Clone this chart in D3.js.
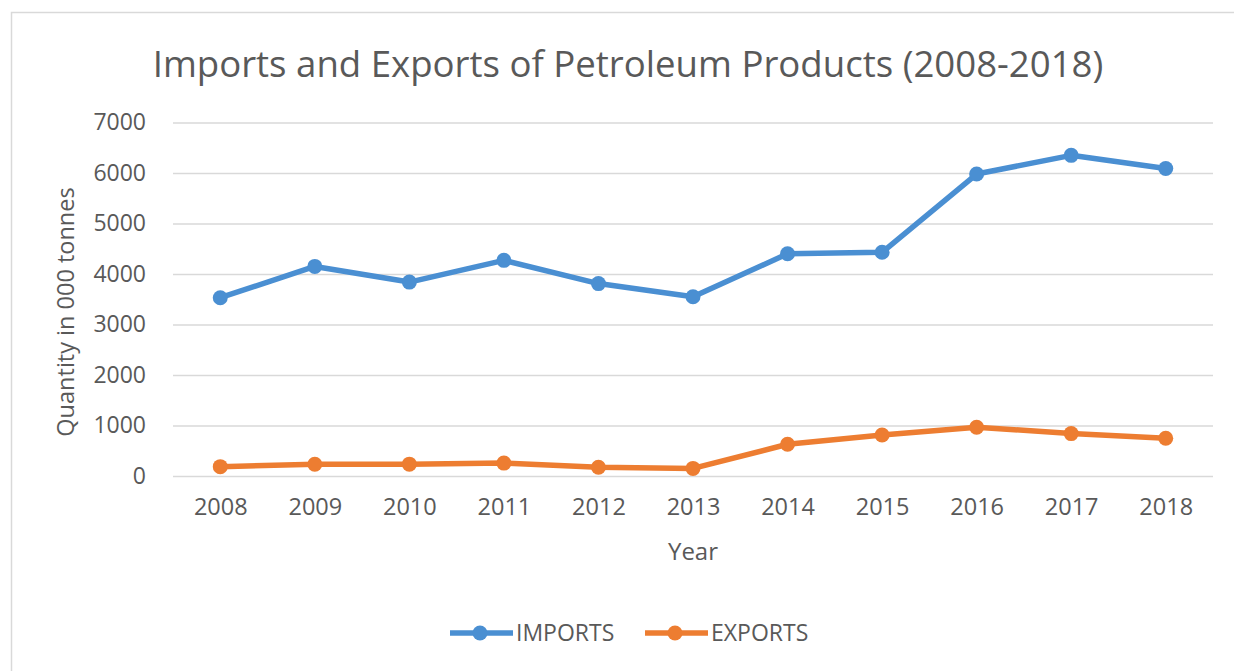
<!DOCTYPE html>
<html>
<head>
<meta charset="utf-8">
<script src="https://cdn.jsdelivr.net/npm/d3@7"></script>
<style>
  html, body { margin: 0; padding: 0; background: #fff; }
  svg { display: block; }
  text { font-family: "Open Sans", "Noto Sans", sans-serif; fill: #595959; }
</style>
</head>
<body>
<svg id="chart" width="1234" height="671"></svg>
<script>
// Petroleum product trade, thousand tonnes
const years = ["2008","2009","2010","2011","2012","2013","2014","2015","2016","2017","2018"];
const imports = [3530, 4150, 3840, 4270, 3810, 3550, 4400, 4430, 5980, 6350, 6090];
const exports = [185, 232, 235, 255, 172, 150, 628, 813, 966, 840, 748];
const yTicks = [0, 1000, 2000, 3000, 4000, 5000, 6000, 7000];
const seriesNames = ["IMPORTS", "EXPORTS"];
const seriesColors = ["#4A8FD2", "#ED7D31"];

const svg = d3.select("#chart");
const W = 1234, H = 671;

// outer chart frame
svg.append("rect")
  .attr("x", 11.5).attr("y", 12.5)
  .attr("width", W + 20).attr("height", H + 20)
  .attr("fill", "#fff").attr("stroke", "#d9d9d9").attr("stroke-width", 1.5);

const plot = { left: 173, right: 1213, top: 122.5, bottom: 476 };

const x = d3.scalePoint().domain(years)
  .range([plot.left, plot.right]).padding(0.5);
const y = d3.scaleLinear().domain([0, 7000])
  .range([plot.bottom, plot.top]);

// title
svg.append("text")
  .attr("x", 628).attr("y", 77)
  .attr("text-anchor", "middle")
  .attr("font-size", 36.6)
  .text("Imports and Exports of Petroleum Products (2008-2018)");

// gridlines
const yAxis = d3.axisLeft(y).tickValues(yTicks).tickFormat(d3.format("d"))
  .tickSize(-(plot.right - plot.left)).tickPadding(27);
const gy = svg.append("g").attr("transform", `translate(${plot.left},0)`).call(yAxis);
gy.select(".domain").remove();
gy.selectAll(".tick line").attr("stroke", "#d9d9d9").attr("stroke-width", 1.5);
gy.selectAll(".tick text").attr("font-size", 23).attr("fill", "#595959")
  .attr("font-family", "'Open Sans', sans-serif");

// x axis
const xAxis = d3.axisBottom(x).tickSize(0).tickPadding(22);
const gx = svg.append("g").attr("transform", `translate(0,${plot.bottom})`).call(xAxis);
gx.select(".domain").remove();
gx.selectAll(".tick text").attr("font-size", 23.5).attr("fill", "#595959")
  .attr("font-family", "'Open Sans', sans-serif");

// axis titles
svg.append("text")
  .attr("x", 693).attr("y", 560)
  .attr("text-anchor", "middle").attr("font-size", 24)
  .text("Year");
svg.append("text")
  .attr("transform", "translate(74,312) rotate(-90)")
  .attr("text-anchor", "middle").attr("font-size", 23.5)
  .text("Quantity in 000 tonnes");

// series lines and markers
const series = [imports, exports];
const line = d3.line().x((d, i) => x(years[i])).y(d => y(d));
series.forEach((vals, s) => {
  svg.append("path")
    .datum(vals)
    .attr("d", line)
    .attr("fill", "none")
    .attr("stroke", seriesColors[s])
    .attr("stroke-width", 5.5)
    .attr("stroke-linejoin", "round");
  svg.append("g").selectAll("circle")
    .data(vals)
    .join("circle")
    .attr("cx", (d, i) => x(years[i]))
    .attr("cy", d => y(d))
    .attr("r", 7.5)
    .attr("fill", seriesColors[s]);
});

// legend
const legendItems = [
  { x: 450, name: seriesNames[0], color: seriesColors[0] },
  { x: 645, name: seriesNames[1], color: seriesColors[1] }
];
const lg = svg.append("g");
legendItems.forEach(it => {
  lg.append("line")
    .attr("x1", it.x).attr("x2", it.x + 63)
    .attr("y1", 633).attr("y2", 633)
    .attr("stroke", it.color).attr("stroke-width", 5.5);
  lg.append("circle")
    .attr("cx", it.x + 30).attr("cy", 633).attr("r", 7.5)
    .attr("fill", it.color);
  lg.append("text")
    .attr("x", it.x + 66).attr("y", 641)
    .attr("font-size", 23)
    .text(it.name);
});
</script>
</body>
</html>
